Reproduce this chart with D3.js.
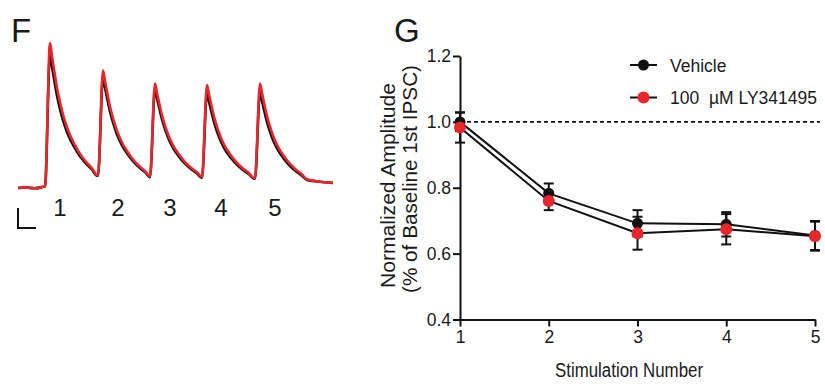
<!DOCTYPE html>
<html>
<head>
<meta charset="utf-8">
<script src="https://cdn.jsdelivr.net/npm/d3@7"></script>
<style>
  body { margin: 0; background: #fff; }
  svg { font-family: "Liberation Sans", Arial, sans-serif; }
</style>
</head>
<body>
<svg id="fig" width="825" height="391"></svg>
<script>
// ---- panel G data ----
const stimulations = [1, 2, 3, 4, 5];
const vehicleMean = [1.00, 0.783, 0.692, 0.689, 0.655];
const vehicleSem = [0.028, 0.03, 0.04, 0.037, 0.044];
const lyMean = [0.983, 0.760, 0.662, 0.674, 0.653];
const lySem = [0.046, 0.028, 0.05, 0.046, 0.044];
const yTicks = [0.4, 0.6, 0.8, 1.0, 1.2];
const seriesNames = ["Vehicle", "100\u00A0 \u00B5M LY341495"];

// ---- panel F traces (ms, normalized current) ----
const stimOnsets = [27, 80, 132, 184, 237];
const vehiclePeaks = [0.92, 0.76, 0.68, 0.655, 0.66];
const lyPeaks = [1.0, 0.81, 0.72, 0.71, 0.72];
const vehicleTroughs = [0.085, 0.075, 0.07, 0.065, 0.055];
const lyTroughs = [0.09, 0.08, 0.076, 0.07, 0.06];
const decayTimes = [0, 2, 4, 7, 10, 14, 19, 24, 30, 36, 42, 47];
const decayRemaining = [1, 0.9, 0.8, 0.66, 0.55, 0.43, 0.32, 0.24, 0.16, 0.10, 0.05, 0];
const baselinePts = [[0, 0], [8, 0.004], [16, -0.002], [24, 0.006], [26, 0.01]];
const tailPts = [[300, 0.045], [315, 0.035]];

const svg = d3.select("#fig");
const black = "#111";
const red = "#e8262b";
const textCol = "#1a1a1a";

// ================= panel F =================
svg.append("text").attr("x", 11).attr("y", 42)
  .attr("font-size", 33).attr("fill", textCol).text("F");

const tx = d3.scaleLinear().domain([0, 315]).range([18, 333]);
const ty = d3.scaleLinear().domain([0, 1]).range([188, 43]);

function tracePoints(peaks, troughs) {
  const pts = baselinePts.slice();
  stimOnsets.forEach((t0, i) => {
    const tp = t0 + 5;
    const prev = i === 0 ? 0.01 : troughs[i - 1];
    pts.push([t0, prev]);
    decayTimes.forEach((dt, k) => {
      pts.push([tp + dt, troughs[i] + (peaks[i] - troughs[i]) * decayRemaining[k]]);
    });
  });
  return pts.concat(tailPts);
}

const traceLine = d3.line().x(d => tx(d[0])).y(d => ty(d[1])).curve(d3.curveMonotoneX);

svg.append("path").attr("d", traceLine(tracePoints(vehiclePeaks, vehicleTroughs)))
  .attr("fill", "none").attr("stroke", black).attr("stroke-width", 2.6);
svg.append("path").attr("d", traceLine(tracePoints(lyPeaks, lyTroughs)))
  .attr("fill", "none").attr("stroke", red).attr("stroke-width", 2.6);

svg.selectAll(".stimlab").data(stimOnsets).enter().append("text")
  .attr("x", (d, i) => tx(d) + [15, 20, 20, 19, 20][i])
  .attr("y", 216)
  .attr("text-anchor", "middle")
  .attr("font-size", 24).attr("fill", textCol)
  .text((d, i) => i + 1);

// scale bar
svg.append("path").attr("d", "M18,208V228H36")
  .attr("fill", "none").attr("stroke", black).attr("stroke-width", 2);

// ================= panel G =================
svg.append("text").attr("x", 394).attr("y", 42)
  .attr("font-size", 33).attr("fill", textCol).text("G");

const x = d3.scaleLinear().domain([1, 5]).range([460, 815]);
const y = d3.scaleLinear().domain([0.4, 1.2]).range([319.5, 56]);

const yAxis = svg.append("g").attr("transform", "translate(460,0)")
  .call(d3.axisLeft(y).tickValues(yTicks).tickFormat(d3.format(".1f"))
    .tickSize(7).tickSizeOuter(0).tickPadding(2));
const xAxis = svg.append("g").attr("transform", "translate(0,319.5)")
  .call(d3.axisBottom(x).tickValues(stimulations).tickFormat(d3.format("d"))
    .tickSize(7).tickSizeOuter(0).tickPadding(4));
[yAxis, xAxis].forEach(g => {
  g.selectAll("path, line").attr("stroke", black).attr("stroke-width", 2);
  g.selectAll("text").attr("font-size", 17.5).attr("fill", textCol)
    .attr("font-family", "Liberation Sans, Arial, sans-serif");
});

svg.append("text").attr("x", 629).attr("y", 377)
  .attr("text-anchor", "middle").attr("font-size", 20).attr("fill", textCol)
  .attr("textLength", 148).attr("lengthAdjust", "spacingAndGlyphs")
  .text("Stimulation Number");

const yl1 = svg.append("g").attr("transform", "translate(395,185.5) rotate(-90)");
yl1.append("text").attr("text-anchor", "middle").attr("font-size", 20.5).attr("fill", textCol)
  .attr("textLength", 205).attr("lengthAdjust", "spacingAndGlyphs")
  .text("Normalized Amplitude");
const yl2 = svg.append("g").attr("transform", "translate(416.5,179) rotate(-90)");
yl2.append("text").attr("text-anchor", "middle").attr("font-size", 20.5).attr("fill", textCol)
  .attr("textLength", 228).attr("lengthAdjust", "spacingAndGlyphs")
  .text("(% of Baseline 1st IPSC)");

// dashed reference at 1.0
svg.append("line").attr("x1", x(1)).attr("x2", 820)
  .attr("y1", y(1)).attr("y2", y(1))
  .attr("stroke", black).attr("stroke-width", 1.6).attr("stroke-dasharray", "4,3");

const series = [
  { name: seriesNames[0], mean: vehicleMean, sem: vehicleSem, fill: black, r: 5.5 },
  { name: seriesNames[1], mean: lyMean, sem: lySem, fill: red, r: 6 }
];

const meanLine = d3.line().x((d, i) => x(stimulations[i])).y(d => y(d));

series.forEach(s => {
  svg.append("path").attr("d", meanLine(s.mean))
    .attr("fill", "none").attr("stroke", black).attr("stroke-width", 2);
});

series.forEach(s => {
  const eb = svg.append("g").attr("stroke", black).attr("stroke-width", 2);
  s.mean.forEach((m, i) => {
    const cx = x(stimulations[i]);
    eb.append("line").attr("x1", cx).attr("x2", cx)
      .attr("y1", y(m - s.sem[i])).attr("y2", y(m + s.sem[i]));
    [m - s.sem[i], m + s.sem[i]].forEach(v => {
      eb.append("line").attr("x1", cx - 5).attr("x2", cx + 5)
        .attr("y1", y(v)).attr("y2", y(v));
    });
  });
});

series.forEach(s => {
  svg.append("g").selectAll("circle").data(s.mean).enter().append("circle")
    .attr("cx", (d, i) => x(stimulations[i]))
    .attr("cy", d => y(d))
    .attr("r", s.r)
    .attr("fill", s.fill);
});

// legend
const legend = svg.append("g");
series.forEach((s, i) => {
  const ly = 65 + i * 32.5;
  legend.append("line").attr("x1", 630).attr("x2", 657).attr("y1", ly).attr("y2", ly)
    .attr("stroke", black).attr("stroke-width", 2);
  legend.append("circle").attr("cx", 643.5).attr("cy", ly).attr("r", s.r).attr("fill", s.fill);
  legend.append("text").attr("x", 670).attr("y", ly + 6.5)
    .attr("font-size", 17.5).attr("fill", textCol).text(s.name);
});
</script>
</body>
</html>
